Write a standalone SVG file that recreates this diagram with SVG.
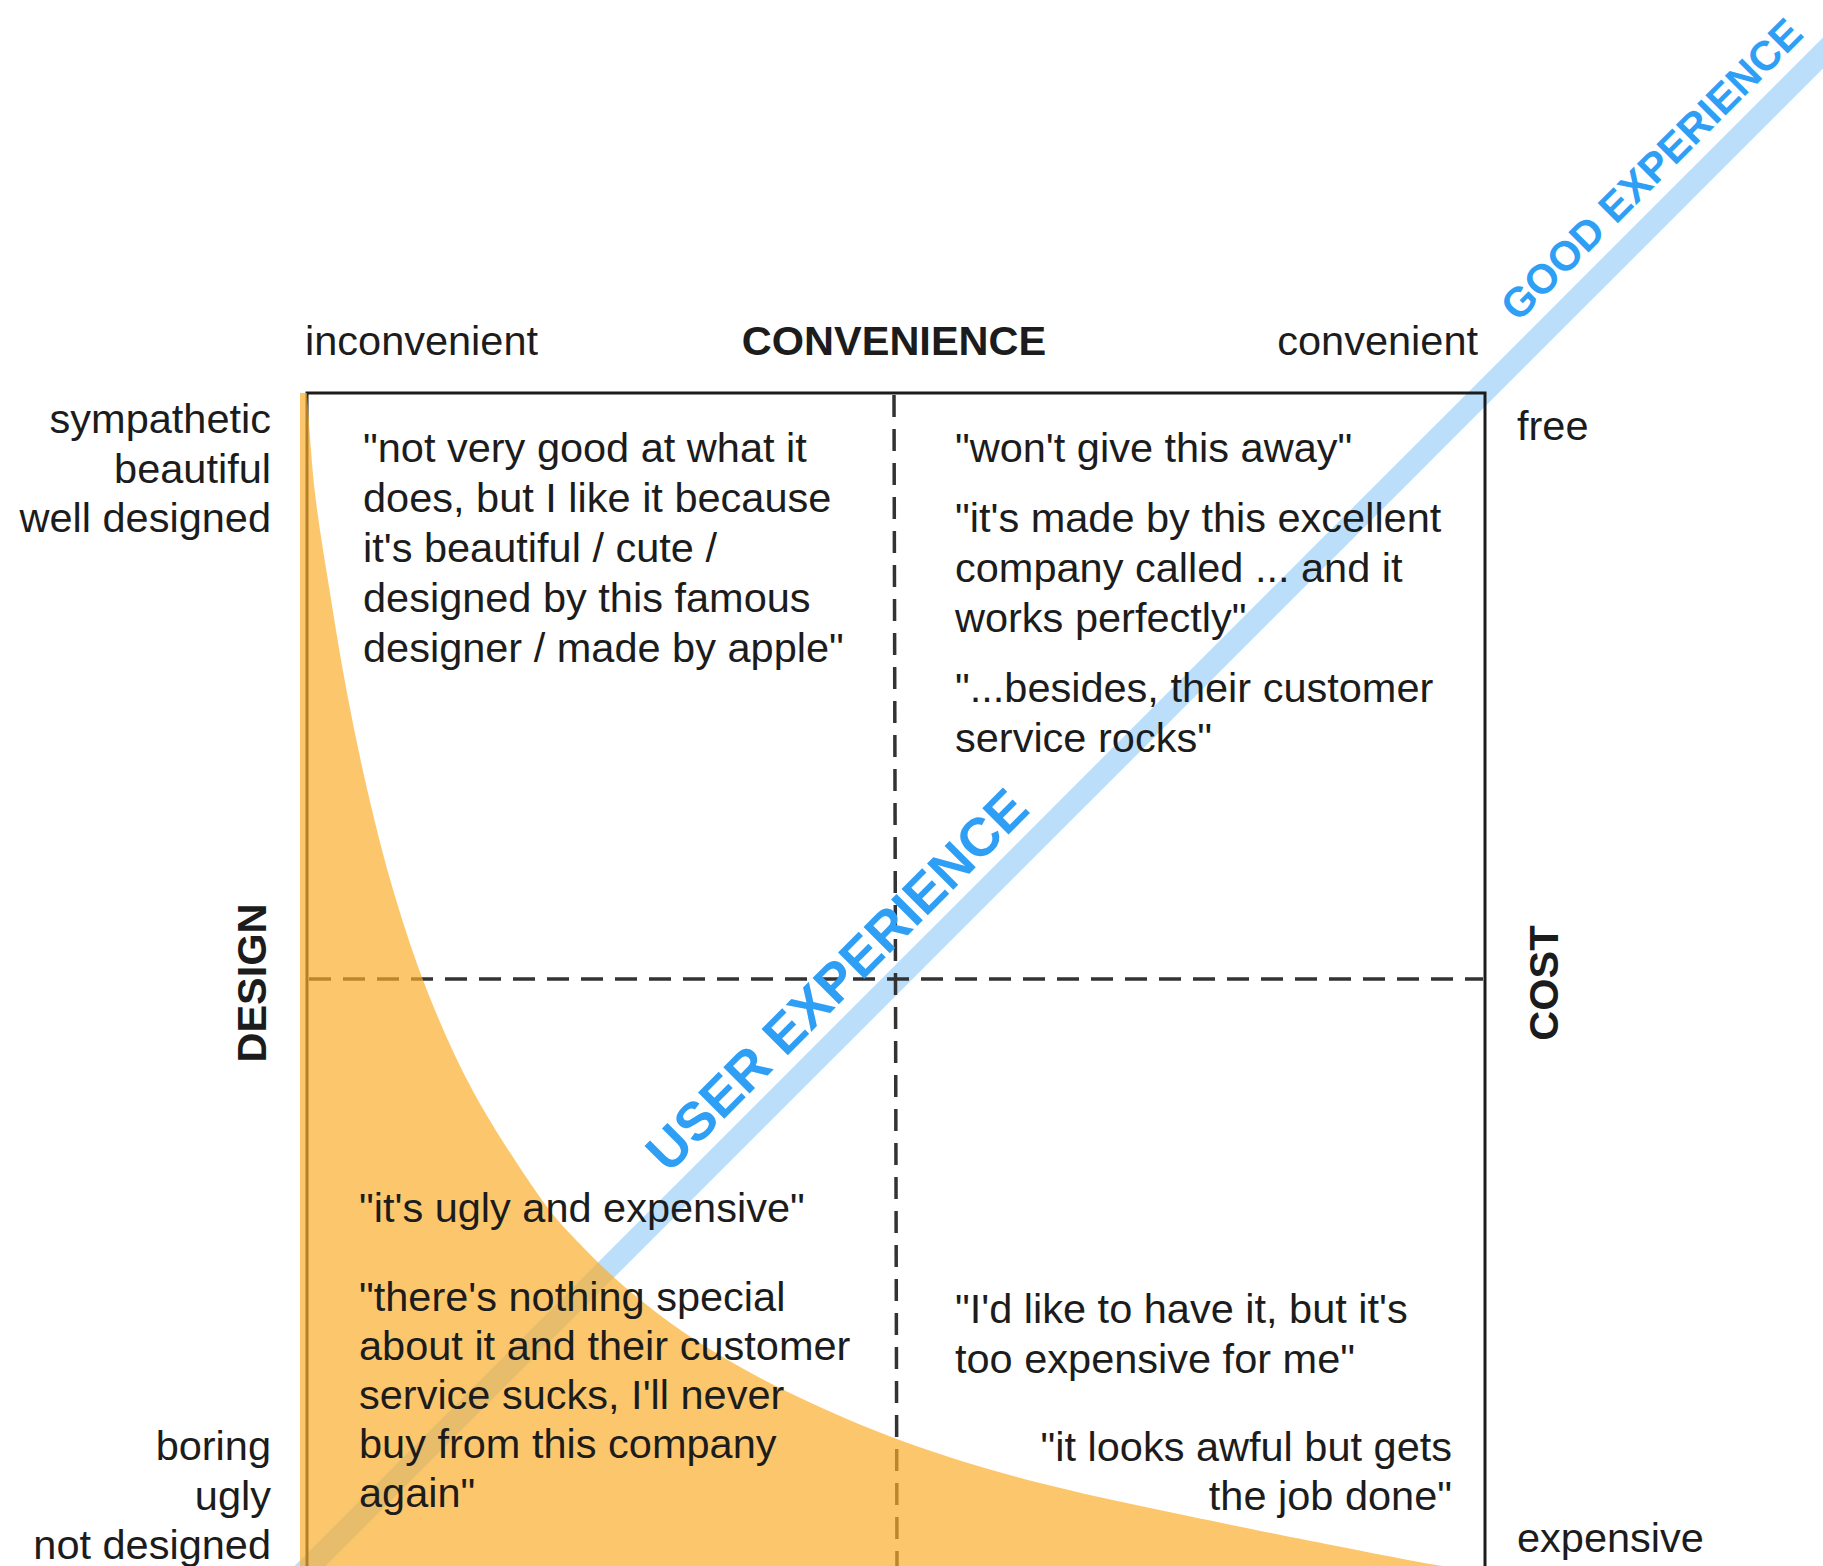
<svg xmlns="http://www.w3.org/2000/svg" width="1823" height="1566" viewBox="0 0 1823 1566">
<style>
  text { font-family: "Liberation Sans", Arial, Helvetica, sans-serif; font-size: 41.5px; fill: #1c1c1c; }
  .b { font-weight: bold; }
  .e { text-anchor: end; }
  .m { text-anchor: middle; }
  .blue { fill: #2f9ff5; }
  .dash { stroke: #333; stroke-width: 3.5; stroke-dasharray: 22 12; fill: none; }
</style>
<rect width="1823" height="1566" fill="#ffffff"/>

<g id="band">
  <line x1="250" y1="1626" x2="1900" y2="-24" stroke="#bbdefb" stroke-width="22"/>
</g>

<g id="connectors">
  <line class="dash" x1="894" y1="395" x2="897" y2="1572"/>
  <line class="dash" x1="309" y1="979" x2="1483" y2="979"/>
  <rect id="frame" x="307" y="393" width="1178" height="1185" fill="none" stroke="#1c1c1c" stroke-width="3"/>
</g>

<g id="region">
  <path d="M307,393 C308.3,409.7 311.2,459.7 315,493 C318.8,526.3 324.7,559.7 330,593 C335.3,626.3 340.7,659.7 347,693 C353.3,726.3 360.2,759.7 368,793 C375.8,826.3 384,859.7 394,893 C404,926.3 414.7,959.7 428,993 C441.3,1026.3 455.8,1059.7 474,1093 C492.2,1126.3 519.5,1168 537,1193 C554.5,1218 563.2,1226.3 579,1243 C594.8,1259.7 611.8,1276.3 632,1293 C652.2,1309.7 673.7,1326.3 700,1343 C726.3,1359.7 755.8,1376.5 790,1393 C824.2,1409.5 863.3,1427 905,1442 C946.7,1457 987.2,1469.5 1040,1483 C1092.8,1496.5 1160.7,1510.2 1222,1523 C1283.3,1535.8 1364.2,1551.8 1408,1560 C1451.8,1568.2 1472.2,1570 1485,1572 L1485,1590 L300,1590 L300,393 Z" fill="#fbae2a" fill-opacity="0.69"/>
</g>

<g id="axis-convenience">
  <text x="305" y="355">inconvenient</text>
  <text class="b m" x="894" y="355">CONVENIENCE</text>
  <text class="e" x="1478" y="355">convenient</text>
</g>

<g id="axis-design">
  <text class="e" x="271" y="433">sympathetic</text>
  <text class="e" x="271" y="483">beautiful</text>
  <text class="e" x="271" y="532">well designed</text>
  <text class="b m" transform="translate(266,983) rotate(-90)">DESIGN</text>
  <text class="e" x="271" y="1460">boring</text>
  <text class="e" x="271" y="1510">ugly</text>
  <text class="e" x="271" y="1559">not designed</text>
</g>

<g id="axis-cost">
  <text x="1517" y="440">free</text>
  <text class="b m" transform="translate(1558,983) rotate(-90)">COST</text>
  <text x="1517" y="1552">expensive</text>
</g>

<g id="quadrant-top-left">
  <text x="363" y="462">"not very good at what it</text>
  <text x="363" y="512">does, but I like it because</text>
  <text x="363" y="562">it's beautiful / cute /</text>
  <text x="363" y="612">designed by this famous</text>
  <text x="363" y="662">designer / made by apple"</text>
</g>

<g id="quadrant-top-right">
  <text x="955" y="462">"won't give this away"</text>
  <text x="955" y="532">"it's made by this excellent</text>
  <text x="955" y="582">company called ... and it</text>
  <text x="955" y="632">works perfectly"</text>
  <text x="955" y="702">"...besides, their customer</text>
  <text x="955" y="752">service rocks"</text>
</g>

<g id="quadrant-bottom-left">
  <text x="359" y="1222">"it's ugly and expensive"</text>
  <text x="359" y="1311">"there's nothing special</text>
  <text x="359" y="1360">about it and their customer</text>
  <text x="359" y="1409">service sucks, I'll never</text>
  <text x="359" y="1458">buy from this company</text>
  <text x="359" y="1507">again"</text>
</g>

<g id="quadrant-bottom-right">
  <text x="955" y="1323">"I'd like to have it, but it's</text>
  <text x="955" y="1373">too expensive for me"</text>
  <text class="e" x="1452" y="1461">"it looks awful but gets</text>
  <text class="e" x="1452" y="1510">the job done"</text>
</g>

<g id="experience-labels">
  <text class="blue b m" style="font-size:54px" transform="translate(850,993) rotate(-45)">USER EXPERIENCE</text>
  <text class="blue b" transform="translate(1518,323) rotate(-45)">GOOD EXPERIENCE</text>
</g>
</svg>
